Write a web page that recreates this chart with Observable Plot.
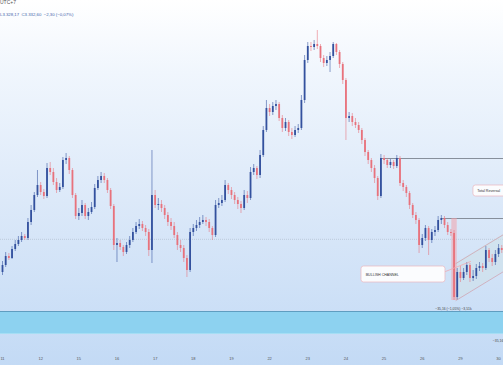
<!DOCTYPE html>
<html><head><meta charset="utf-8">
<script src="https://cdn.jsdelivr.net/npm/d3@7"></script>
<script src="https://cdn.jsdelivr.net/npm/@observablehq/plot@0.6"></script>
<style>
html,body{margin:0;padding:0;background:#fff;}
#wrap{position:relative;width:503px;height:365px;overflow:hidden;background:linear-gradient(to bottom,#ffffff 0%,#f0f6fd 20%,#dce9f9 55%,#c3daf5 100%);font-family:"Liberation Sans",Arial,sans-serif;}
#head{position:relative;height:22px;}
#l1{position:absolute;left:0px;top:0px;font-size:5px;line-height:5px;color:#555;white-space:nowrap;}
#l2{position:absolute;left:0px;top:12px;font-size:4.3px;line-height:5px;color:#3f64aa;white-space:nowrap;}
svg{display:block;}
</style></head><body>
<div id="wrap"><div id="head"><div id="l1">UTC+7</div><div id="l2">L3.328,17&nbsp; C3.332,60&nbsp; −2,30 (−0,07%)</div></div><div id="chart"></div></div>
<script>
// ---- data ----
const firstOpen = 3316;
const closes = [
3319.5,3324,3323,3327.5,3330,3332,3334,3333,3341,3347,
3354.5,3359.5,3356,3354,3368,3366,3361,3357,3358.5,3372,
3373,3367,3354.5,3344,3345.5,3349.5,3344,3346,3348.5,3358,
3362,3364,3362,3357,3349,3329.5,3330.5,3328.5,3326,3329.5,
3332,3336,3339,3340,3338,3336,3327,3354.5,3349.5,3350,
3348,3344.5,3341,3339,3334.5,3329.5,3328,3323,3317,3336,
3338,3339.5,3341,3342,3341,3338,3334.5,3349.5,3350.5,3352,
3359.5,3357,3354.5,3352,3350,3348,3354.5,3353,3366,3368,
3364.5,3374.5,3387,3398,3396,3399,3400,3393,3388,3391,
3386,3384.5,3387,3388,3402,3422,3429,3428.5,3430,3429,
3423,3420.5,3422,3424,3430,3426,3420,3412,3393,3394,
3391,3389.5,3387,3382,3376,3372,3368,3363,3354,3373,
3372,3369.5,3371,3369,3373,3360.5,3358.5,3355.5,3349.5,3344.5,
3342,3329.5,3333,3338,3332,3336,3337,3342,3343,3339.5,
3336,3335.5,3303.5,3316,3313,3316,3319.5,3313,3314,3318,
3319,3318,3327,3323,3321,3325,3328,3327];
const highs = [
3321.5,3326,3325.5,3329,3332,3334,3336,3335,3343,3349.5,
3356,3367,3361,3357.5,3370.5,3371,3368,3363,3360.5,3373.5,
3375.5,3374,3368,3355.5,3348,3352,3350.5,3348,3351,3360,
3364,3366,3365.5,3363,3358,3350,3333,3332,3329.5,3331,
3334,3338,3341,3342.5,3341.5,3339.5,3337.5,3377,3357,3353,
3352,3349.5,3346,3343,3341,3336,3332,3329.5,3324.5,3338,
3340,3342,3343.5,3344.5,3343.5,3342.5,3339,3352,3353,3354.5,
3362,3360.5,3358.5,3356,3353.5,3351.5,3357,3356.5,3368.5,3370,
3369,3377,3389,3402,3400,3401,3402,3401,3394.5,3393,
3392,3388,3389,3390,3404.5,3424.5,3431,3431,3432,3437,
3430,3424.5,3424,3426,3431,3430.5,3427,3421,3413,3396,
3395.5,3393,3391,3388,3383,3377,3373,3369.5,3364,3375,
3374.5,3373,3372.5,3372,3374.5,3374,3362,3359.5,3356.5,3350.5,
3346,3343,3335,3339.5,3339,3337.5,3339,3344,3344.5,3344,
3341,3337.5,3337,3318,3319,3318,3321,3320.5,3317,3320,
3321,3320.5,3329,3328,3325,3327,3330,3329.5];
const lows = [
3314.5,3318.5,3322,3322.5,3326.5,3329,3331,3332,3332,3339.5,
3346,3353.5,3354.5,3352.5,3353,3364.5,3359.5,3355.5,3356,3357.5,
3370,3365,3353,3342.5,3342,3344,3342.5,3342,3345,3347.5,
3357,3360.5,3360.5,3355.5,3347.5,3327,3321,3327,3324,3325,
3328,3331,3335,3337.5,3336.5,3334,3324,3320.5,3348,3347,
3346,3342.5,3339,3337,3333,3327,3326,3321,3313.5,3316,
3334,3336.5,3338,3340,3339,3336,3332,3333.5,3348,3349,
3351,3355,3352.5,3350,3347.5,3345.5,3347,3350.5,3352,3364.5,
3362.5,3363,3373.5,3386,3394,3394.5,3397,3391.5,3386,3386.5,
3384,3382.5,3383.5,3385.5,3387,3400.5,3420.5,3426.5,3427,3427.5,
3421,3418.5,3419,3416,3423,3424.5,3418,3410,3382,3391,
3389,3388,3385.5,3380,3374,3370,3366,3360.5,3352,3353,
3370,3368,3368,3367.5,3368,3359,3356.5,3353.5,3347.5,3343,
3340,3325.5,3328,3331.5,3324.5,3330.5,3334,3336,3340,3338,
3334.5,3334,3302,3302,3311,3312,3314.5,3311,3311.5,3312.5,
3316.5,3316,3317,3321,3319,3319.5,3323.5,3325.5];

const dayLabels = ["11","12","15","16","17","18","19","22","23","24","25","26","29","30"];
const dayIndex  = [0,12,24,36,48,60,72,84,96,108,120,132,144,156];

const lastPrice = 3332.6;
const zoneLow = 3285.5, zoneHigh = 3296.5;
const levels = [{price: 3373, from: 119}, {price: 3343, from: 138.4}];
const channelX = [142.6, 157.6];
const channelUpper = [3320.5, 3335];
const channelLower = [3302, 3316.5];
const connectorX = [139.3, 147.2];
const connectorY = [3316.5, 3321.5];
const measureX = [141.3, 143.0];
const measureY = [3302, 3343];
const labelBoxes = [
  {x1: 112.9, x2: 139.3, y1: 3311, y2: 3319, tx: 114.2, ty: 3315, text: "BULLISH CHANNEL"},
  {x1: 148.1, x2: 161, y1: 3354, y2: 3359.5, tx: 149.3, ty: 3356.75, text: "Total Reversal"}
];
const measureText = [{x: 141.8, y: 3298, text: "−35,16 (−1,05%) −3,51k"}];
const edgeText = [{x: 157.5, y: 3282, text: "−35,16"}];

const xDomain = [-0.629, 157.55];
const yDomain = [3274.5, 3441];

// ---- build table ----
const bars = closes.map((c, i) => ({
  i, open: i === 0 ? firstOpen : closes[i - 1], close: c, high: highs[i], low: lows[i]
}));
const UP = "#33519e", DOWN = "#e8727c";
const col = d => d.close >= d.open ? UP : DOWN;
const channel = channelX.map((x, k) => ({x, hi: channelUpper[k], lo: channelLower[k]}));
const connector = connectorX.map((x, k) => ({x, y: connectorY[k]}));

const chart = Plot.plot({
  width: 503, height: 343,
  marginTop: 0, marginBottom: 10, marginLeft: 0, marginRight: 0,
  style: {background: "transparent", fontFamily: "Liberation Sans, Arial, sans-serif", overflow: "hidden"},
  x: {domain: xDomain, axis: null},
  y: {domain: yDomain, axis: null},
  marks: [
    Plot.rect([0], {y1: zoneLow, y2: zoneHigh, fill: "#8dd2f0"}),
    Plot.ruleY([zoneHigh], {stroke: "#5f9dc0", strokeWidth: 1}),
    Plot.ruleY([zoneLow], {stroke: "#a6def4", strokeWidth: 1}),
    Plot.ruleY([lastPrice], {stroke: "#a3aebd", strokeWidth: 0.5, strokeDasharray: "1,1"}),
    Plot.ruleY(levels, {y: "price", x1: "from", x2: xDomain[1], stroke: "#7d8590", strokeWidth: 0.9}),
    Plot.areaY(channel, {x: "x", y1: "lo", y2: "hi", fill: "#cfe1ea", fillOpacity: 0.6, clip: true}),
    Plot.rect([0], {x1: measureX[0], x2: measureX[1], y1: measureY[0], y2: measureY[1], fill: "#f3a3ab", fillOpacity: 0.55}),
    Plot.ruleX(bars, {x: "i", y1: "low", y2: "high", stroke: col, strokeWidth: 0.8, strokeOpacity: 0.7}),
    Plot.ruleX(bars, {x: "i", y1: "open", y2: "close", stroke: col, strokeWidth: 1.8}),
    Plot.line(channel, {x: "x", y: "hi", stroke: "#cfa6b0", strokeWidth: 0.8, clip: true}),
    Plot.line(channel, {x: "x", y: "lo", stroke: "#cfa6b0", strokeWidth: 0.8, clip: true}),
    Plot.line(connector, {x: "x", y: "y", stroke: "#f0aab2", strokeWidth: 0.8}),
    Plot.rect(labelBoxes, {x1: "x1", x2: "x2", y1: "y1", y2: "y2", fill: "#fbfcfe", stroke: "#ebb6bd", strokeWidth: 0.7, rx: 2.5, clip: true}),
    Plot.text(labelBoxes, {x: "tx", y: "ty", text: "text", textAnchor: "start", fontSize: 3.6, fill: "#333"}),
    Plot.text(measureText, {x: "x", y: "y", text: "text", fontSize: 3.4, fill: "#444"}),
    Plot.text(edgeText, {x: "x", y: "y", text: "text", textAnchor: "end", fontSize: 3.4, fill: "#444"}),
    Plot.axisX(dayIndex, {tickFormat: d => dayLabels[dayIndex.indexOf(d)], tickSize: 0, tickPadding: 2, fontSize: 4, fill: "#555"})
  ]
});
document.getElementById("chart").appendChild(chart);
</script>
</body></html>
